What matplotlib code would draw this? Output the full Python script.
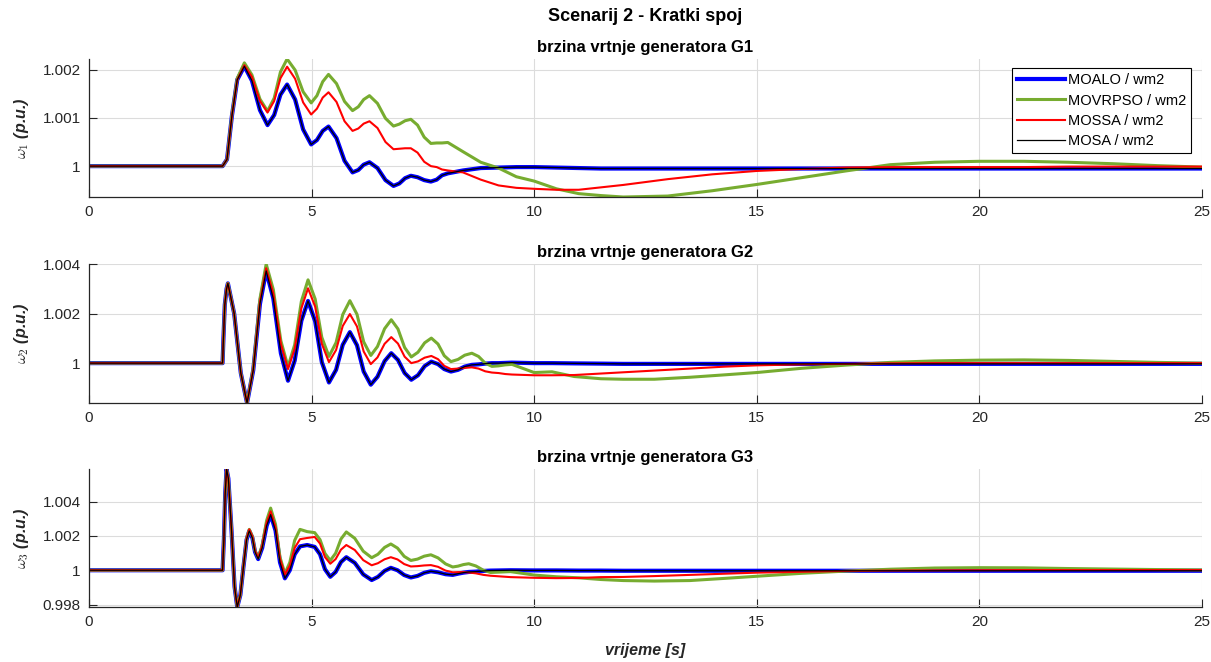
import matplotlib
matplotlib.use('Agg')
import matplotlib.pyplot as plt

plt.rcParams['font.family'] = ['Liberation Sans', 'DejaVu Sans']
plt.rcParams['mathtext.fontset'] = 'cm'

series_names = ['MOALO / wm2', 'MOVRPSO / wm2', 'MOSSA / wm2', 'MOSA / wm2']
panel_titles = ['brzina vrtnje generatora G1', 'brzina vrtnje generatora G2',
                'brzina vrtnje generatora G3']
x_ticks = [0, 5, 10, 15, 20, 25]

# ---- G1 ----
time_g1 = [0, 3.0, 3.1, 3.21, 3.33, 3.49, 3.66, 3.84, 4.01, 4.16, 4.30, 4.45, 4.63, 4.81,
           4.99, 5.12, 5.25, 5.38, 5.56, 5.74, 5.92, 6.05, 6.17, 6.30, 6.48, 6.66, 6.84,
           6.97, 7.10, 7.23, 7.38, 7.53, 7.68, 7.81, 7.93, 8.06, 8.4, 8.8, 9.2, 9.6, 10,
           10.5, 11, 11.5, 12, 13, 14, 15, 16, 17, 18, 19, 20, 21, 22, 23, 24, 25]
moalo_g1 = [1.0, 1.0, 1.00014, 1.00104, 1.00179, 1.00207, 1.00177, 1.00116, 1.00085,
            1.00106, 1.00148, 1.00169, 1.00138, 1.00076, 1.00045, 1.00054, 1.00073, 1.00082,
            1.00058, 1.00011, 0.99987, 0.99992, 1.00003, 1.00008, 0.99996, 0.99971, 0.99959,
            0.99964, 0.99975, 0.9998, 0.99977, 0.99971, 0.99968, 0.99972, 0.99981, 0.99985,
            0.99991, 0.99996, 0.99997, 0.99998, 0.99998, 0.99997, 0.99996, 0.99995, 0.99995,
            0.99995, 0.99995, 0.99995, 0.99995, 0.99995, 0.99995, 0.99995, 0.99995, 0.99995,
            0.99995, 0.99995, 0.99995, 0.99995]
movrpso_g1 = [1.0, 1.0, 1.00014, 1.00106, 1.00182, 1.00214, 1.00189, 1.00139, 1.00114,
              1.00141, 1.00195, 1.00222, 1.00199, 1.00154, 1.00131, 1.00146, 1.00175, 1.0019,
              1.00171, 1.00134, 1.00115, 1.00123, 1.00138, 1.00146, 1.0013, 1.00099, 1.00083,
              1.00087, 1.00094, 1.00097, 1.00085, 1.0006, 1.00047, 1.00048, 1.00048, 1.00049,
              1.0003, 1.00008, 0.99996, 0.99978, 0.99969, 0.99953, 0.99943, 0.99939, 0.99936,
              0.99938, 0.99949, 0.99962, 0.99976, 0.9999, 1.00003, 1.00008, 1.0001, 1.0001,
              1.00008, 1.00005, 1.00001, 0.99998]
mossa_g1 = [1.0, 1.0, 1.00014, 1.00104, 1.00179, 1.00209, 1.00185, 1.00135, 1.00111,
            1.00135, 1.00182, 1.00206, 1.00181, 1.00132, 1.00107, 1.00119, 1.00142, 1.00153,
            1.00133, 1.00093, 1.00073, 1.00078, 1.00088, 1.00093, 1.00079, 1.0005, 1.00035,
            1.00036, 1.00037, 1.00037, 1.00028, 1.00009, 1.0, 0.99998, 0.99993, 0.99991,
            0.99987, 0.99972, 0.9996, 0.99955, 0.99953, 0.99951, 0.99951, 0.99956, 0.99961,
            0.99973, 0.99983, 0.9999, 0.99994, 0.99997, 0.99998, 0.99998, 0.99998, 0.99998,
            0.99999, 0.99999, 0.99999, 0.99999]
mosa_g1 = moalo_g1  # MOSA lies on top of MOALO
yticks_g1 = [1.0, 1.001, 1.002]
ylabels_g1 = ['1', '1.001', '1.002']

# ---- G2 ----
time_g2 = [0, 3.0, 3.02, 3.05, 3.09, 3.12, 3.26, 3.41, 3.55, 3.69, 3.84, 3.98, 4.14, 4.31,
           4.47, 4.62, 4.77, 4.92, 5.08, 5.23, 5.39, 5.55, 5.70, 5.86, 6.02, 6.17, 6.33,
           6.48, 6.64, 6.79, 6.94, 7.09, 7.24, 7.39, 7.54, 7.69, 7.84, 7.98, 8.13, 8.29,
           8.44, 8.6, 8.75, 8.9, 9.05, 9.2, 9.35, 9.5, 10, 10.4, 10.9, 11.5, 12, 12.7, 13.5,
           14.3, 15, 16, 17, 18, 19, 20, 21, 22, 23, 24, 25]
moalo_g2 = [1.0, 1.0, 1.00101, 1.00235, 1.003, 1.00322, 1.00201, 0.9996, 0.99839, 0.99972,
            1.00239, 1.00372, 1.00261, 1.0004, 0.99929, 1.0001, 1.00171, 1.00251, 1.00169,
            1.00004, 0.99922, 0.99973, 1.00074, 1.00125, 1.00072, 0.99966, 0.99913, 0.99945,
            1.00008, 1.0004, 1.00013, 0.9996, 0.99933, 0.99951, 0.99988, 1.00006, 0.99996,
            0.99976, 0.99966, 0.99973, 0.99986, 0.99993, 0.99995, 0.99998, 1.0, 1.0, 1.00001,
            1.00002, 1.0, 1.0, 0.99999, 0.99998, 0.99997, 0.99997, 0.99997, 0.99997, 0.99997,
            0.99997, 0.99997, 0.99997, 0.99997, 0.99997, 0.99997, 0.99997, 0.99997, 0.99997,
            0.99997]
movrpso_g2 = [1.0, 1.0, 1.00101, 1.00235, 1.003, 1.00322, 1.00201, 0.9996, 0.99839, 0.99979,
              1.0026, 1.004, 1.00297, 1.0009, 0.99986, 1.00074, 1.00249, 1.00336, 1.00259,
              1.00104, 1.00027, 1.00083, 1.00196, 1.00252, 1.00197, 1.00086, 1.00031, 1.00067,
              1.00139, 1.00175, 1.00138, 1.00063, 1.00025, 1.00044, 1.00082, 1.00101, 1.00077,
              1.0003, 1.00006, 1.00015, 1.00032, 1.0004, 1.00027, 1.0, 0.99987, 0.99989,
              0.99993, 0.99995, 0.99962, 0.99965, 0.99946, 0.99937, 0.99935, 0.99935, 0.99943,
              0.99953, 0.99962, 0.99979, 0.99992, 1.00003, 1.00009, 1.00012, 1.00013, 1.00011,
              1.00007, 1.00003, 1.0]
mossa_g2 = [1.0, 1.0, 1.00101, 1.00235, 1.003, 1.00322, 1.00201, 0.9996, 0.99839, 0.99975,
            1.00247, 1.00383, 1.00281, 1.00078, 0.99976, 1.00058, 1.00221, 1.00302, 1.00228,
            1.00078, 1.00004, 1.00053, 1.0015, 1.00198, 1.00148, 1.00047, 0.99996, 1.00023,
            1.00078, 1.00105, 1.00079, 1.00026, 1.0, 1.00007, 1.00022, 1.00029, 1.00016,
            0.99989, 0.99976, 0.99978, 0.99981, 0.99983, 0.99978, 0.99967, 0.99962, 0.9996,
            0.99956, 0.99954, 0.99951, 0.99951, 0.99952, 0.99958, 0.99963, 0.9997, 0.99978,
            0.99986, 0.99991, 0.99995, 0.99997, 0.99999, 1.0, 1.0, 1.0, 1.0, 1.0, 1.0, 1.0]
mosa_g2 = moalo_g2
yticks_g2 = [1.0, 1.002, 1.004]
ylabels_g2 = ['1', '1.002', '1.004']

# ---- G3 ----
time_g3 = [0, 3.0, 3.03, 3.06, 3.09, 3.13, 3.2, 3.27, 3.33, 3.4, 3.47, 3.54, 3.6, 3.67,
           3.73, 3.8, 3.89, 3.99, 4.08, 4.19, 4.29, 4.4, 4.51, 4.62, 4.74, 4.9, 5.07, 5.19,
           5.3, 5.42, 5.54, 5.66, 5.78, 5.97, 6.16, 6.35, 6.49, 6.64, 6.78, 6.93, 7.08, 7.23,
           7.38, 7.53, 7.68, 7.84, 8.01, 8.17, 8.29, 8.41, 8.53, 8.69, 8.86, 9.02, 9.47, 10,
           10.5, 11, 11.5, 12, 12.7, 13.5, 14.3, 15, 16, 17, 18, 19, 20, 21, 22, 23, 24, 25]
moalo_g3 = [1.0, 1.0, 1.0018, 1.0045, 1.0059, 1.00535, 1.00239, 0.99903, 0.99786, 0.99856,
            1.00021, 1.00178, 1.00229, 1.00188, 1.00106, 1.00065, 1.0013, 1.00259, 1.00324,
            1.00231, 1.00046, 0.99953, 1.0, 1.00093, 1.00139, 1.00147, 1.00136, 1.00093,
            1.00006, 0.99962, 0.9999, 1.00048, 1.00076, 1.00043, 0.99976, 0.99943, 0.99961,
            0.99996, 1.00014, 1.0, 0.99972, 0.99958, 0.99967, 0.99985, 0.99994, 0.99988,
            0.99977, 0.99973, 0.9998, 0.99986, 0.9999, 0.99992, 0.99996, 0.99998, 1.0,
            0.99999, 0.99999, 0.99998, 0.99998, 0.99997, 0.99997, 0.99997, 0.99997, 0.99997,
            0.99997, 0.99997, 0.99997, 0.99997, 0.99997, 0.99997, 0.99997, 0.99997, 0.99997,
            0.99997]
movrpso_g3 = [1.0, 1.0, 1.0018, 1.0045, 1.0059, 1.00535, 1.00239, 0.99903, 0.99786, 0.99858,
              1.00026, 1.00186, 1.00238, 1.00197, 1.00114, 1.00073, 1.00145, 1.0029, 1.00362,
              1.00267, 1.00076, 0.99981, 1.00045, 1.00174, 1.00238, 1.00225, 1.00219, 1.00178,
              1.00098, 1.00057, 1.00099, 1.00182, 1.00223, 1.00186, 1.00111, 1.00073, 1.00093,
              1.00133, 1.00153, 1.00129, 1.00081, 1.00057, 1.00065, 1.00082, 1.0009, 1.00072,
              1.00037, 1.00019, 1.00024, 1.00033, 1.00038, 1.00025, 1.0, 0.99987, 0.99992,
              0.99972, 0.99962, 0.99956, 0.99946, 0.9994, 0.99937, 0.9994, 0.99953, 0.99965,
              0.99982, 0.99995, 1.00006, 1.00013, 1.00015, 1.00014, 1.0001, 1.00007, 1.00004,
              1.00002]
mossa_g3 = [1.0, 1.0, 1.0018, 1.0045, 1.0059, 1.00535, 1.00239, 0.99903, 0.99786, 0.99858,
            1.00026, 1.00186, 1.00238, 1.00197, 1.00114, 1.00073, 1.00141, 1.00276, 1.00343,
            1.00251, 1.00067, 0.99975, 1.00027, 1.0013, 1.00181, 1.00188, 1.00194, 1.00155,
            1.00077, 1.00038, 1.00065, 1.0012, 1.00147, 1.00118, 1.00059, 1.00029, 1.00041,
            1.00064, 1.00076, 1.00063, 1.00036, 1.00022, 1.00024, 1.00028, 1.0003, 1.0002,
            0.99998, 0.99988, 0.99989, 0.99989, 0.99987, 0.99982, 0.99973, 0.99968, 0.9996,
            0.99956, 0.99954, 0.99955, 0.9996, 0.99961, 0.99966, 0.99973, 0.9998, 0.99986,
            0.99991, 0.99996, 0.99998, 0.99999, 1.0, 1.00001, 1.00001, 1.00001, 1.00001,
            1.00001]
mosa_g3 = moalo_g3
yticks_g3 = [0.998, 1.0, 1.002, 1.004]
ylabels_g3 = ['0.998', '1', '1.002', '1.004']

panels = [
    (time_g1, [moalo_g1, movrpso_g1, mossa_g1, mosa_g1], yticks_g1, ylabels_g1),
    (time_g2, [moalo_g2, movrpso_g2, mossa_g2, mosa_g2], yticks_g2, ylabels_g2),
    (time_g3, [moalo_g3, movrpso_g3, mossa_g3, mosa_g3], yticks_g3, ylabels_g3),
]

colors = ['#0000ff', '#77ac30', '#ff0000', '#000000']
widths = [3.0, 2.2, 1.5, 0.9]
tick_col = '#262626'

fig = plt.figure(figsize=(12.11, 6.62), dpi=100)
boxes = [[0.0735, 0.7024, 0.9190, 0.2085],
         [0.0735, 0.3912, 0.9190, 0.2100],
         [0.0735, 0.0831, 0.9190, 0.2085]]

for i, (t, ys, yt, yl) in enumerate(panels):
    ax = fig.add_axes(boxes[i])
    for y, c, w, name in zip(ys, colors, widths, series_names):
        ax.plot(t, y, color=c, lw=w, label=name, solid_joinstyle='round')
    lo = min(min(y) for y in ys)
    hi = max(max(y) for y in ys)
    ax.set_ylim(lo, hi)
    ax.set_xlim(0, 25)
    ax.set_xticks(x_ticks)
    ax.set_xticklabels([str(v) for v in x_ticks])
    ax.set_yticks(yt)
    ax.set_yticklabels(yl)
    ax.grid(True, color='#dcdcdc', lw=0.8)
    ax.set_axisbelow(True)
    for s in ['top', 'right']:
        ax.spines[s].set_visible(False)
    for s in ['left', 'bottom']:
        ax.spines[s].set_color(tick_col)
        ax.spines[s].set_linewidth(0.9)
    ax.tick_params(direction='in', length=6, width=0.8, colors=tick_col,
                   labelsize=11, pad=6)
    ax.set_title(panel_titles[i], fontsize=12, fontweight='bold', pad=5)
    ax.set_ylabel(r'$\omega_{%d}$ (p.u.)' % (i + 1), fontsize=11.5, fontweight='bold',
                  style='italic', color=tick_col, labelpad=8)
    if i == 0:
        leg = ax.legend(loc='upper right', fontsize=10.5, handlelength=3.3,
                        handletextpad=0.2, labelspacing=0.42, borderpad=0.35,
                        fancybox=False, framealpha=1, edgecolor='black',
                        bbox_to_anchor=(0.997, 0.985))
        leg.get_frame().set_linewidth(0.8)
    if i == 2:
        ax.set_xlabel('vrijeme [s]', fontsize=11.5, fontweight='bold', style='italic',
                      color=tick_col, labelpad=10)

fig.suptitle('Scenarij 2 - Kratki spoj', x=0.533, y=0.988, fontsize=13, fontweight='bold')

fig.savefig('out.png', dpi=100)
